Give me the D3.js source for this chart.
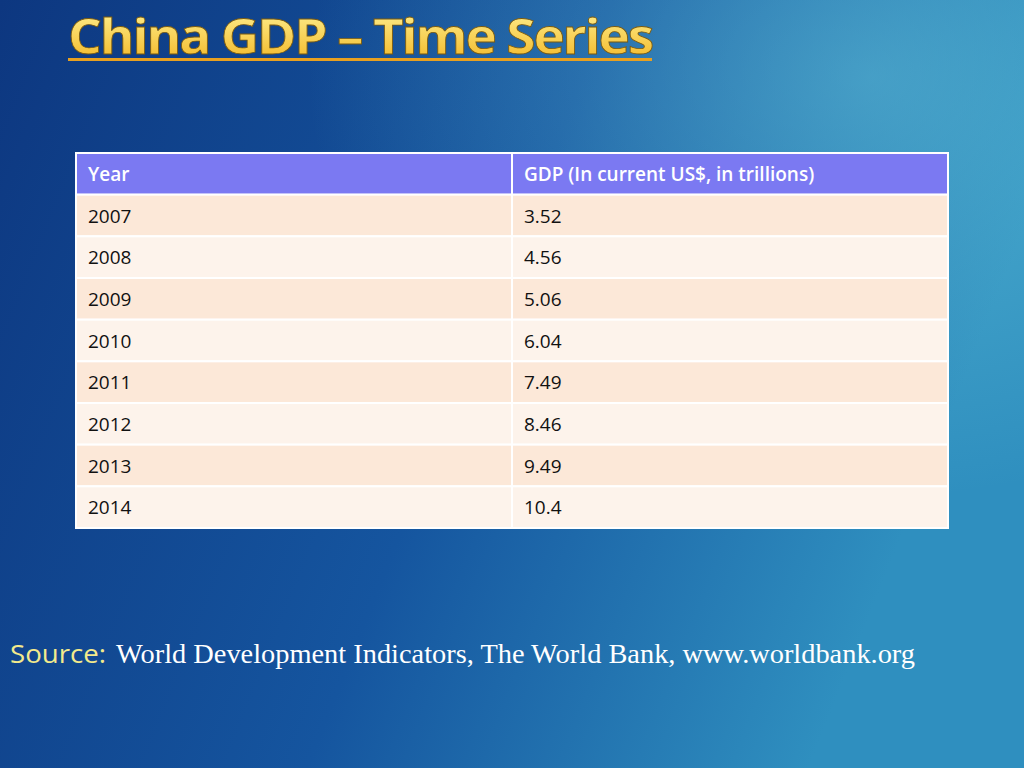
<!DOCTYPE html>
<html><head><meta charset="utf-8">
<script src="https://cdn.jsdelivr.net/npm/d3@7"></script>
<style>body{margin:0;overflow:hidden}</style>
</head><body>
<svg width="1024" height="768"></svg>
<script>
var years = ["2007", "2008", "2009", "2010", "2011", "2012", "2013", "2014"];
var gdp = ["3.52", "4.56", "5.06", "6.04", "7.49", "8.46", "9.49", "10.4"];
var headers = ["Year", "GDP (In current US$, in trillions)"];

var svg = d3.select("svg");
var defs = svg.append("defs");

// background gradient
var bg = defs.append("linearGradient").attr("id", "bg")
    .attr("x1", 0).attr("y1", 0).attr("x2", 1).attr("y2", 0.3);
bg.append("stop").attr("offset", 0).attr("stop-color", "#0d3780");
bg.append("stop").attr("offset", 0.55).attr("stop-color", "#15559f");
bg.append("stop").attr("offset", 1).attr("stop-color", "#2f8fbf");
svg.append("rect").attr("width", 1024).attr("height", 768).attr("fill", "url(#bg)");

var glow = defs.append("radialGradient").attr("id", "glow")
    .attr("cx", 0.85).attr("cy", 0.1).attr("r", 0.55);
glow.append("stop").attr("offset", 0).attr("stop-color", "#6fd0e0").attr("stop-opacity", 0.45);
glow.append("stop").attr("offset", 1).attr("stop-color", "#6fd0e0").attr("stop-opacity", 0);
svg.append("rect").attr("width", 1024).attr("height", 768).attr("fill", "url(#glow)");

// title
var tg = defs.append("linearGradient").attr("id", "tg").attr("x1", 0).attr("y1", 0).attr("x2", 0).attr("y2", 1);
tg.append("stop").attr("offset", 0).attr("stop-color", "#fff59a");
tg.append("stop").attr("offset", 1).attr("stop-color", "#f2b21c");
svg.append("text").attr("x", 68).attr("y", 54)
    .attr("font-family", "'Liberation Sans Narrow', 'Open Sans', sans-serif")
    .attr("font-weight", "bold").attr("font-size", 48)
    .attr("letter-spacing", -2)
    .attr("textLength", 584).attr("lengthAdjust", "spacingAndGlyphs")
    .attr("fill", "url(#tg)").attr("stroke", "#7a5a10").attr("stroke-width", 0.8)
    .text("China GDP – Time Series");
svg.append("rect").attr("x", 68).attr("y", 58).attr("width", 584).attr("height", 3).attr("fill", "#e8a020");

// table
var tableX = d3.scaleBand().domain([0, 1]).range([76, 948]);
var rowY = d3.scaleBand().domain(d3.range(years.length + 1)).range([153, 528]);
var table = svg.append("g");

var rows = [headers].concat(years.map(function (y, i) { return [y, gdp[i]]; }));
rows.forEach(function (row, r) {
    row.forEach(function (cell, c) {
        table.append("rect")
            .attr("x", tableX(c)).attr("y", rowY(r))
            .attr("width", tableX.bandwidth()).attr("height", rowY.bandwidth())
            .attr("fill", r === 0 ? "#7b79f2" : (r % 2 === 1 ? "#fce8d8" : "#fdf3eb"))
            .attr("stroke", "#ffffff").attr("stroke-width", 2);
        table.append("text")
            .attr("x", tableX(c) + 12).attr("y", rowY(r) + rowY.bandwidth() / 2 + 7)
            .attr("font-family", "'Open Sans', sans-serif").attr("font-size", 19)
            .attr("font-weight", r === 0 ? 600 : 400)
            .attr("fill", r === 0 ? "#ffffff" : "#111111")
            .text(cell);
    });
});

// source
svg.append("text").attr("x", 10).attr("y", 663)
    .attr("font-family", "'Open Sans', sans-serif").attr("font-size", 25)
    .attr("textLength", 96).attr("lengthAdjust", "spacingAndGlyphs")
    .attr("fill", "#f3ea8c").text("Source:");
svg.append("text").attr("x", 116).attr("y", 663)
    .attr("font-family", "'Liberation Serif', serif").attr("font-size", 27)
    .attr("textLength", 799).attr("lengthAdjust", "spacingAndGlyphs")
    .attr("fill", "#ffffff").text("World Development Indicators, The World Bank, www.worldbank.org");
</script>
</body></html>
